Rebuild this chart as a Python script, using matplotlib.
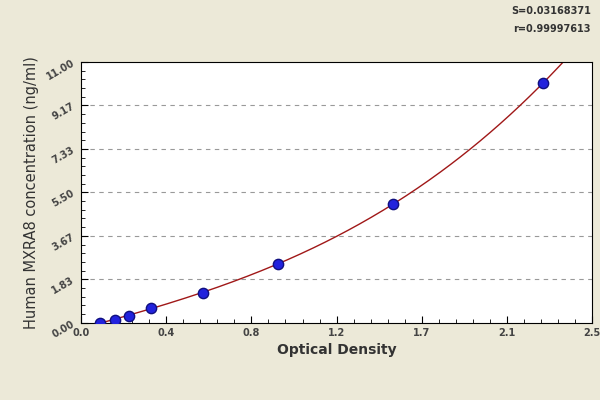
import numpy as np
import matplotlib
matplotlib.use("Agg")
import matplotlib.pyplot as plt

od = [0.092, 0.165, 0.237, 0.34, 0.596, 0.964, 1.526, 2.258]
conc = [0.0, 0.13, 0.3, 0.63, 1.27, 2.5, 5.0, 10.1]
yticks = [0.00, 1.83, 3.67, 5.50, 7.33, 9.17, 11.00]
ylabels = ["0.00", "1.83", "3.67", "5.50", "7.33", "9.17", "11.00"]
xticks = [0, 2.5/6, 2*2.5/6, 3*2.5/6, 4*2.5/6, 5*2.5/6, 2.5]
xlabels = ["0.0", "0.4", "0.8", "1.2", "1.7", "2.1", "2.5"]

bg = "#ECE9D8"
fig = plt.figure(figsize=(6, 4), dpi=100, facecolor=bg)
ax = fig.add_axes([0.135, 0.193, 0.852, 0.652])
ax.set_facecolor("white")

coef = np.polyfit(od, conc, 3)
xs = np.linspace(0.09, 2.5, 300)
ax.plot(xs, np.polyval(coef, xs), color="#A01818", lw=1)
ax.scatter(od, conc, s=55, color="#2222DD", edgecolor="#101080", zorder=3)

ax.set_xlim(0, 2.5)
ax.set_ylim(0, 11)
ax.set_yticks(yticks)
ax.set_yticklabels(ylabels, rotation=30, fontsize=7, fontweight="bold", color="#444")
ax.set_xticks(xticks)
ax.set_xticklabels(xlabels, fontsize=7, fontweight="bold", color="#444")
ax.set_yticks(np.arange(0, 11.01, 11/30), minor=True)
ax.set_xticks(np.arange(0, 2.501, 2.5/30), minor=True)
ax.tick_params(which="both", direction="in")
ax.tick_params(which="major", length=5)
ax.tick_params(which="minor", length=3)
for y in yticks[1:-1]:
    ax.axhline(y, color="#999", ls=(0, (4, 4)), lw=0.8, zorder=0)
for s in ax.spines.values():
    s.set_color("black")

ax.set_xlabel("Optical Density", fontsize=10, fontweight="bold", color="#333")
ax.set_ylabel("Human MXRA8 concentration (ng/ml)", fontsize=10.5, color="#333")
fig.text(0.985, 0.965, "S=0.03168371", ha="right", fontsize=7, fontweight="bold", color="#333")
fig.text(0.985, 0.92, "r=0.99997613", ha="right", fontsize=7, fontweight="bold", color="#333")
fig.savefig("out.png", dpi=100, facecolor=bg)
